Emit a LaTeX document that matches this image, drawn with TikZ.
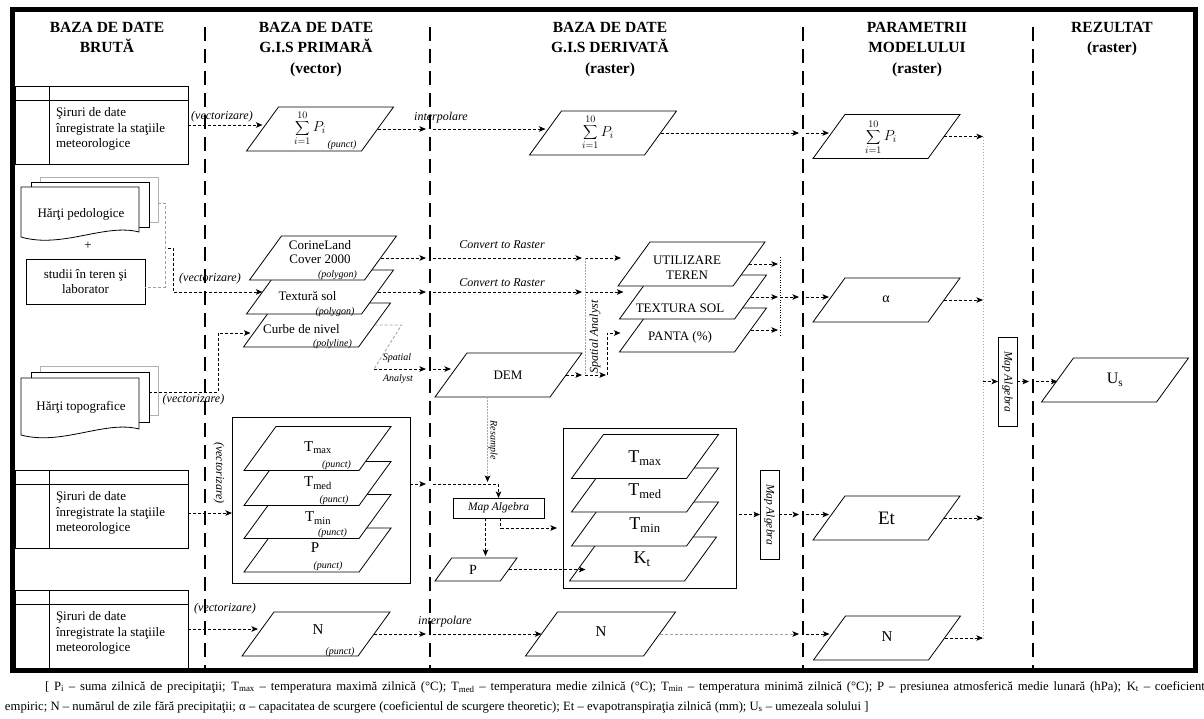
\documentclass[tikz,border=0pt]{standalone}
\usepackage{fontspec}
\setmainfont{Liberation Serif}
\usetikzlibrary{shapes.geometric,arrows.meta,calc}
\newcommand\FHead{\fontsize{15.5}{20.5}\selectfont\bfseries}
\newcommand\FBody{\fontsize{13}{15.5}\selectfont}
\newcommand\FLab{\fontsize{12}{14}\selectfont\itshape}
\newcommand\FTiny{\fontsize{10}{11}\selectfont\itshape}
\newcommand\FSmallIt{\fontsize{11.5}{13}\selectfont\itshape}
\newcommand\FLeg{\fontsize{12.7}{14}\selectfont}
\newcommand\FSum{\fontsize{14}{16}\selectfont}
\newcommand\MyTab[3]{%
  \node[boxn, minimum width=173pt, minimum height=78pt, anchor=north west] (#1) at (#2,#3) {};
  \draw[line width=1pt] ($(#1.north west)+(0,14.5)$) -- ($(#1.north east)+(0,14.5)$);
  \draw[line width=1pt] ($(#1.north west)+(34,0)$) -- ($(#1.south west)+(34,0)$);
  \node[anchor=north west, align=left, font=\FBody] (#1-t) at ($(#1.north west)+(41,21.5)$) {Şiruri de date\\înregistrate la staţiile\\meteorologice};
}
\begin{document}
\begin{tikzpicture}[x=1pt,y=-1pt,
  every node/.style={inner sep=0pt, outer sep=0pt},
  para/.style={trapezium, trapezium left angle=54, trapezium right angle=126, trapezium stretches body, draw, line width=0.8pt, fill=white, inner ysep=22pt, inner xsep=0pt, minimum width=147pt},
  darr/.style={line width=0.9pt, dash pattern=on 3pt off 2pt, -{Stealth[length=6.5pt,width=5.5pt,inset=1.5pt]}},
  gdot/.style={draw=gray!70, line width=0.8pt, dash pattern=on 1.5pt off 1.5pt},
  bdot/.style={line width=0.8pt, dash pattern=on 1pt off 1.5pt},
  gdsh/.style={draw=gray!75, line width=0.8pt, dash pattern=on 3pt off 2pt},
  sepl/.style={line width=1.8pt, dash pattern=on 14pt off 8pt},
  tosep/.style={shorten >=4pt},
  fromsep/.style={shorten <=3pt},
  boxn/.style={draw, line width=1pt},
  page/.style={draw, line width=0.8pt, fill=white},
  pageb/.style={draw=gray!60, line width=0.8pt, fill=white},
  head/.style={font=\FHead, align=center, anchor=north},
]
\useasboundingbox (0,0) rectangle (1204,718);
% frame
\draw[line width=4.5pt] (12.5,9.5) rectangle (1195.5,670.5);
% separators
\coordinate (sepA) at (205,0);
\coordinate (sepB) at (430,0);
\coordinate (sepC) at (803,0);
\coordinate (sepD) at (1033,0);
\coordinate (gx) at (983,0);
\coordinate (gx2) at (585,0);
\coordinate (gx3) at (607,0);
\foreach \xx in {205,430,803,1033} \draw[sepl] (\xx,27) -- (\xx,668);
% headings
\node[head] (h1) at (107,22) {BAZA DE DATE\\BRUTĂ};
\node[head] (h2) at (316,22) {BAZA DE DATE\\G.I.S PRIMARĂ\\(vector)};
\node[head] (h3) at (610,22) {BAZA DE DATE\\G.I.S DERIVATĂ\\(raster)};
\node[head] (h4) at (917,22) {PARAMETRII\\MODELULUI\\(raster)};
\node[head] (h5) at (1112,22) {REZULTAT\\(raster)};
% tables
\MyTab{tab1}{15}{86}
\MyTab{tab2}{15}{470}
\MyTab{tab3}{15}{590}
% stacks of maps
\draw[pageb] (40,177) rectangle (158,222);
\draw[page] (31,182) rectangle (149,227);
\draw[page] (21,187) -- (139,187) -- (139,232) .. controls (105,223) and (62,249) .. (21,237) -- cycle;
\node[font=\FBody] (ped) at (81,214) {Hărţi pedologice};
\coordinate (ped-out) at (158,203);
\node[font=\FBody] (plus) at (88,246) {+};
\node[boxn, minimum width=119pt, minimum height=45pt, align=center, font=\FBody] (studii) at (85.5,281.5) {studii în teren şi\\laborator};
\draw[pageb] (40,366) rectangle (158,415);
\draw[page] (31,372) rectangle (149,422);
\draw[page] (21,378) -- (139,378) -- (139,429) .. controls (105,420) and (62,446) .. (21,435) -- cycle;
\node[font=\FBody] (topo) at (81,407) {Hărţi topografice};
\coordinate (topo-out) at (149,392);
% parallelograms
\node[para] (pi2) at (320,129) {};
\node[para] (pi3) at (603,133) {};
\node[para] (pi4) at (886.5,136.5) {};
\node[para] (curbe) at (317,325) {};
\node[para] (textura2) at (320,292) {};
\node[para] (corine) at (323,258) {};
\node[para] (panta) at (693,330) {};
\node[para] (textura3) at (693,297) {};
\node[para] (util) at (691.5,264) {};
\node[para] (dem) at (508.5,375) {};
\node[para] (alpha) at (886.5,300) {};
\node[para] (et) at (886.5,518) {};
\node[para] (n4) at (887,638) {};
\node[para] (us) at (1115,380) {};
\node[boxn, minimum width=178pt, minimum height=166pt] (boxT2) at (321,500) {};
\node[para] (p2) at (317.5,550) {};
\node[para] (tmin2) at (317.5,516.5) {};
\node[para] (tmed2) at (317.5,483.5) {};
\node[para] (tmax2) at (317.5,448.5) {};
\node[boxn, minimum width=173pt, minimum height=160pt] (boxT3) at (649.5,508) {};
\node[para] (kt) at (643,559) {};
\node[para] (tmin3) at (645,524) {};
\node[para] (tmed3) at (645,490) {};
\node[para] (tmax3) at (645,456.5) {};
\node[para, minimum width=82pt, inner ysep=11.5pt] (p3) at (476,569.5) {};
\node[para, minimum width=148pt] (n2) at (316,634) {};
\node[para, minimum width=150pt] (n3) at (600.5,634) {};
\node[boxn, minimum width=91pt, minimum height=20pt] (ma3) at (498.5,508) {};
\node[boxn, minimum width=19pt, minimum height=89pt] (ma3v) at (769.5,514.5) {};
\node[boxn, minimum width=19pt, minimum height=89pt] (ma4) at (1007.5,381.5) {};
% labels in shapes
\node (pi2-l) at (310,128) {\FSum$\displaystyle\sum_{i=1}^{10}P_i$};
\node[font=\FTiny] (pi2-p) at (342,145) {(punct)};
\node (pi3-l) at (598,132.5) {\FSum$\displaystyle\sum_{i=1}^{10}P_i$};
\node (pi4-l) at (881,137) {\FSum$\displaystyle\sum_{i=1}^{10}P_i$};
\node[align=center, font=\fontsize{13}{14}\selectfont] (corine-t) at (320,252) {CorineLand\\Cover 2000};
\node[font=\FTiny] (corine-p) at (337.5,275) {(polygon)};
\node[font=\FBody] (textura2-t) at (307.5,296) {Textură sol};
\node[font=\FTiny] (textura2-p) at (335,312) {(polygon)};
\node[font=\FBody] (curbe-t) at (301.5,329) {Curbe de nivel};
\node[font=\FTiny] (curbe-p) at (332.5,344) {(polyline)};
\node[align=center, font=\fontsize{13}{15}\selectfont] (util-t) at (687,267.5) {UTILIZARE\\TEREN};
\node[font=\FBody] (textura3-t) at (680,308) {TEXTURA SOL};
\node[font=\FBody] (panta-t) at (680,337) {PANTA (\%)};
\node[font=\FBody] (dem-t) at (508,375) {DEM};
\node[font=\fontsize{14}{16}\selectfont] (alpha-t) at (886,299) {α};
\node[font=\fontsize{19}{21}\selectfont] (et-t) at (886.5,518) {Et};
\node[font=\fontsize{15}{17}\selectfont] (n4-t) at (887,637) {N};
\node[font=\fontsize{16}{18}\selectfont] (us-t) at (1115,380) {U\textsubscript{s}};
\node[font=\fontsize{15}{17}\selectfont] (tmax2-t) at (318,448) {T\textsubscript{max}};
\node[font=\FTiny] (tmax2-p) at (336.5,465) {(punct)};
\node[font=\fontsize{15}{17}\selectfont] (tmed2-t) at (318,483) {T\textsubscript{med}};
\node[font=\FTiny] (tmed2-p) at (334,500) {(punct)};
\node[font=\fontsize{15}{17}\selectfont] (tmin2-t) at (318,518) {T\textsubscript{min}};
\node[font=\FTiny] (tmin2-p) at (332.5,533) {(punct)};
\node[font=\fontsize{15}{17}\selectfont] (p2-t) at (315,548) {P};
\node[font=\FTiny] (p2-p) at (328,566) {(punct)};
\node[font=\fontsize{18}{20}\selectfont] (tmax3-t) at (645,458) {T\textsubscript{max}};
\node[font=\fontsize{18}{20}\selectfont] (tmed3-t) at (645,491) {T\textsubscript{med}};
\node[font=\fontsize{18}{20}\selectfont] (tmin3-t) at (645,525) {T\textsubscript{min}};
\node[font=\fontsize{18}{20}\selectfont] (kt-t) at (642,559) {K\textsubscript{t}};
\node[font=\fontsize{14}{16}\selectfont] (p3-t) at (473,570) {P};
\node[font=\fontsize{15}{17}\selectfont] (n2-t) at (318,630) {N};
\node[font=\FTiny] (n2-p) at (340,652) {(punct)};
\node[font=\fontsize{15}{17}\selectfont] (n3-t) at (601,632) {N};
\node[font=\FSmallIt] (ma3-t) at (ma3) {Map Algebra};
\node[font=\FSmallIt, rotate=-90] (ma3v-t) at (ma3v) {Map Algebra};
\node[font=\FSmallIt, rotate=-90] (ma4-t) at (ma4) {Map Algebra};
% connector labels
\node[font=\FLab] (lv1) at (222,117) {(vectorizare)};
\node[font=\FLab] (li1) at (441,118) {interpolare};
\node[font=\FLab] (lc1) at (502,245) {Convert to Raster};
\node[font=\FLab] (lc2) at (502,283) {Convert to Raster};
\node[font=\FLab, rotate=90] (lsa) at (595,337) {Spatial Analyst};
\node[font=\FTiny] (lsp) at (397,358) {Spatial};
\node[font=\FTiny] (lan) at (398,379) {Analyst};
\node[font=\FLab] (lv2) at (210,279) {(vectorizare)};
\node[font=\FLab] (lv4) at (193.5,400) {(vectorizare)};
\node[font=\FLab, rotate=-90] (lv3) at (219,473) {(vectorizare)};
\node[font=\FTiny, rotate=-90] (lrs) at (493,440) {Resample};
\node[font=\FLab] (lv5) at (225,609) {(vectorizare)};
\node[font=\FLab] (li2) at (445,622) {interpolare};
% ---- connectors ----
% row 1
\draw[darr] (tab1.east) -- (tab1.east-|pi2.left side);
\draw[darr,tosep] (pi2.right side) -- (pi2.right side-|sepB);
\draw[darr,fromsep] (pi2.right side-|sepB) -- (pi2.right side-|pi3.left side);
\draw[darr,tosep] (pi3.right side) -- (pi3.right side-|sepC);
\draw[darr,fromsep] (pi3.right side-|sepC) -- (pi3.right side-|pi4.left side);
\draw[darr] (pi4.right side) -- (pi4.right side-|gx);
% pedologice / studii -> textura
\coordinate (pv) at (165,287);
\draw[gdsh] (ped-out) -| (pv) -- (pv-|studii.east);
\coordinate (tt0) at (168,248);
\coordinate (tt) at (173,292);
\draw[darr] (tt0) -| (tt) -- (tt-|textura2.left side);
% corine / textura -> raster
\draw[darr,tosep] (corine.right side) -- (corine.right side-|sepB);
\draw[darr,fromsep,shorten >=3pt] (corine.right side-|sepB) -- (corine.right side-|gx2);
\draw[darr,shorten >=13pt] (corine.right side-|gx2) -- (corine.right side-|util.left side);
\draw[darr,tosep] (textura2.right side) -- (textura2.right side-|sepB);
\draw[darr,fromsep,shorten >=3pt] (textura2.right side-|sepB) -- (textura2.right side-|gx2);
\draw[darr,shorten >=12pt] (textura2.right side-|gx2) -- (textura2.right side-|textura3.left side);
\draw[gdot] (corine.right side-|gx2) -- (dem.right side-|gx2);
% curbe -> DEM
\coordinate (sa) at (374,369);
\draw[gdsh] (curbe.right side) -- ++(27,0) -- (sa);
\draw[darr,tosep] (sa) -- (sa-|sepB);
\draw[darr,fromsep] (sa-|sepB) -- (sa-|dem.left side);
% topo -> curbe
\coordinate (tv) at (218,333);
\draw[darr,shorten >=9pt] (topo-out) -| (tv) -- (tv-|curbe.left side);
% DEM -> panta
\draw[darr,shorten >=3pt] (dem.right side) -- (dem.right side-|gx2);
\draw[darr,shorten >=1pt] (dem.right side-|gx2) -- (dem.right side-|gx3);
\draw[darr,shorten >=15pt] (dem.right side-|gx3) |- ($(panta.left side)+(0,3)$);
% col3 stack -> alpha
\coordinate (bxt) at (780,257);
\coordinate (bxb) at (780,337);
\draw[bdot] (bxt) -- (bxb);
\draw[darr,shorten >=2pt] (util.right side) -- (util.right side-|bxt);
\draw[darr,shorten >=2pt] (textura3.right side) -- (textura3.right side-|bxt);
\draw[darr,shorten >=2pt] (panta.right side) -- (panta.right side-|bxt);
\draw[darr,tosep] (textura3.right side-|bxt) -- (textura3.right side-|sepC);
\draw[darr,fromsep] (textura3.right side-|sepC) -- (textura3.right side-|alpha.left side);
% column 4
\draw[gdot] (pi4.right side-|gx) -- (n4.right side-|gx);
\draw[darr] (alpha.right side) -- (alpha.right side-|gx);
\draw[darr] (et.right side) -- (et.right side-|gx);
\draw[darr] (n4.right side) -- (n4.right side-|gx);
\draw[darr] (ma4.west-|gx) -- (ma4.west);
\draw[darr,tosep] (ma4.east) -- (ma4.east-|sepD);
\draw[darr,fromsep] (ma4.east-|sepD) -- (ma4.east-|us.left side);
% temperatures
\draw[darr] ($(tab2.east)+(0,4)$) -- ($(tab2.east-|boxT2.west)+(0,4)$);
\coordinate (bt2) at ($(boxT2.east)+(0,-16)$);
\draw[darr,tosep] (bt2) -- (bt2-|sepB);
\draw[darr,fromsep] (bt2-|sepB) -| (ma3.north);
\draw[gdot,-{Stealth[length=6.5pt,width=5.5pt,inset=1.5pt,color=black]}] ($(dem.bottom side)+(-5,0)$) -- ($(dem.bottom side)+(-5,85)$);
\draw[darr] ($(ma3.south)+(-13,0)$) -- ($(ma3.south)+(-13,38)$);
\draw[darr] ($(ma3.south)+(2,0)$) |- ($(boxT3.west)+(-6,20)$);
\draw[darr] (p3.right side) -- (p3.right side-|kt.left side);
\draw[darr,shorten <=3pt] (ma3v.west-|boxT3.east) -- (ma3v.west);
\draw[darr,tosep] (ma3v.east) -- (ma3v.east-|sepC);
\draw[darr,fromsep] (ma3v.east-|sepC) -- (ma3v.east-|et.left side);
% bottom row
\draw[darr] (tab3.east) -- (tab3.east-|n2.left side);
\draw[darr,tosep] (n2.right side) -- (n2.right side-|sepB);
\draw[darr,fromsep] (n2.right side-|sepB) -- (n2.right side-|n3.left side);
\draw[gdsh,-{Stealth[length=6.5pt,width=5.5pt,inset=1.5pt,color=black]},tosep] (n3.right side) -- (n3.right side-|sepC);
\draw[darr,fromsep] (n3.right side-|sepC) -- (n3.right side-|n4.left side);
% legend
\node[anchor=west, font=\FLeg] (leg1) at (45,687) {\hbox to 1160pt{[ P\textsubscript{i} – suma zilnică de precipitaţii; T\textsubscript{max} – temperatura maximă zilnică (°C); T\textsubscript{med} – temperatura medie zilnică (°C); T\textsubscript{min} – temperatura minimă zilnică (°C); P – presiunea atmosferică medie lunară (hPa); K\textsubscript{t} – coeficient}};
\node[anchor=west, font=\FLeg] (leg2) at (5,707) {empiric; N – numărul de zile fără precipitaţii; α – capacitatea de scurgere (coeficientul de scurgere theoretic); Et – evapotranspiraţia zilnică (mm); U\textsubscript{s} – umezeala solului ]};
\end{tikzpicture}
\end{document}
